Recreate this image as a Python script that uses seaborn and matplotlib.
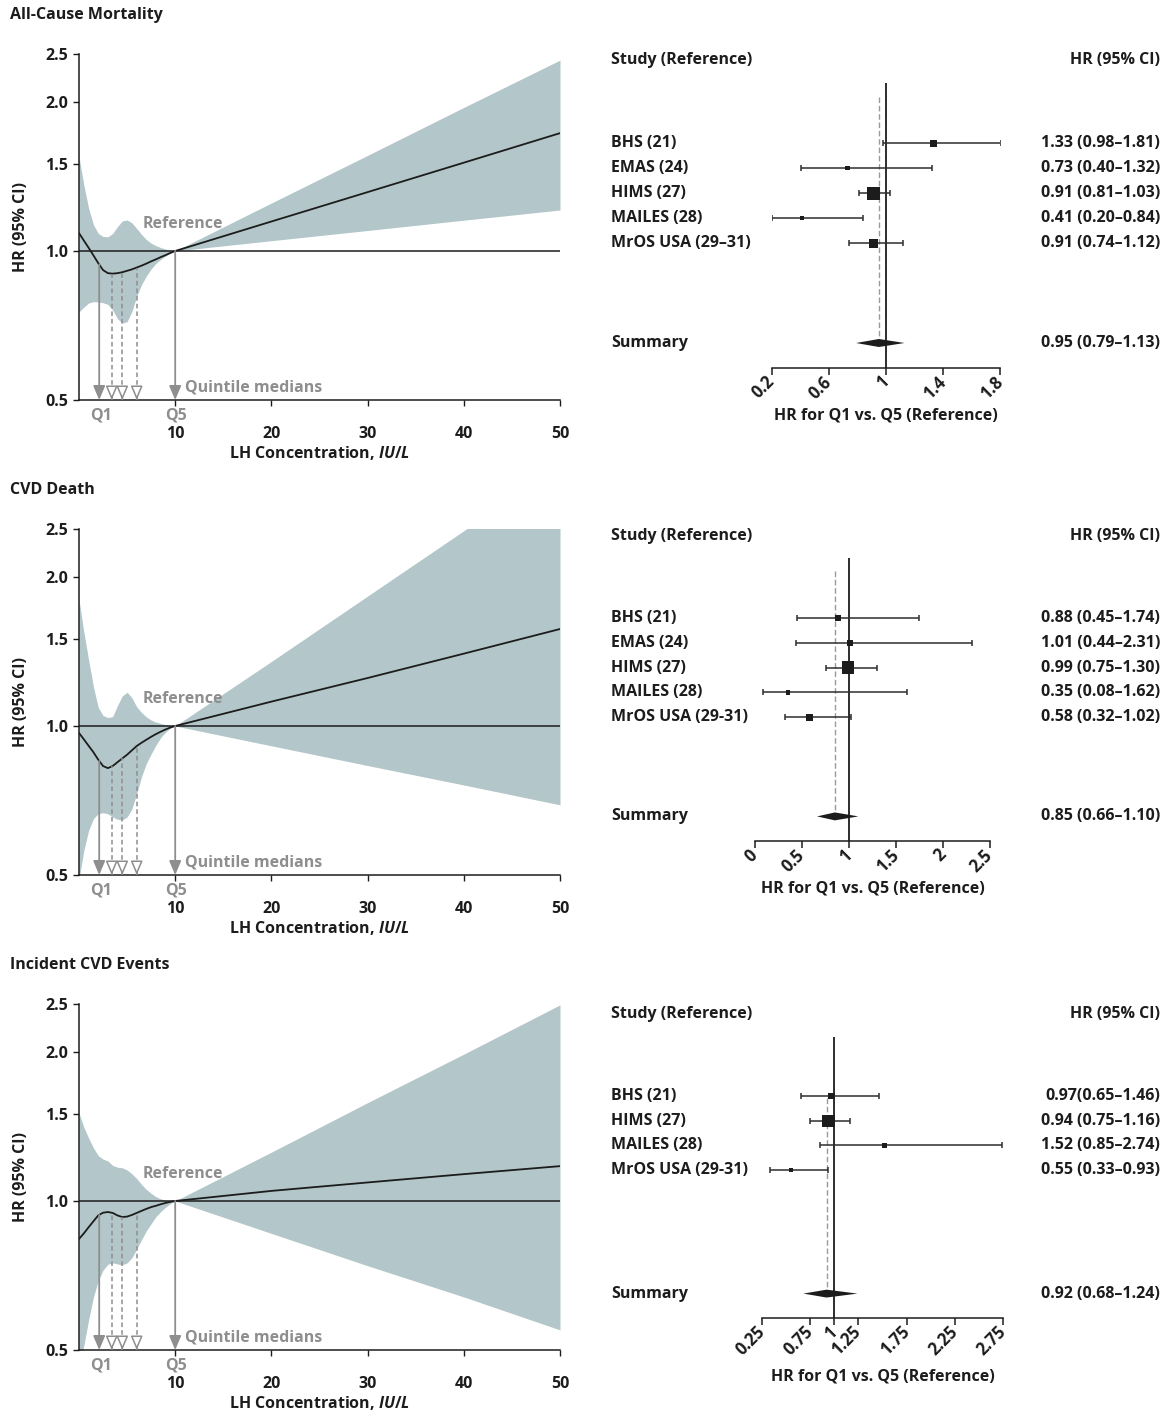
import numpy as np
import seaborn as sns
import matplotlib.pyplot as plt
from matplotlib.ticker import NullLocator
from matplotlib.transforms import blended_transform_factory

# LH concentration grid (IU/L) for the spline curves
LH = [0, 0.5, 1, 1.5, 2, 2.5, 3, 3.5, 4, 4.5, 5, 5.5, 6, 6.5, 7, 7.5,
      8, 8.5, 9, 9.5, 10, 20, 30, 40, 50]

# All-cause mortality spline
ACM_HR = [1.087, 1.05, 1.015, 0.98, 0.945, 0.915, 0.902, 0.900, 0.902, 0.906,
          0.912, 0.918, 0.926, 0.934, 0.943, 0.953, 0.962, 0.972, 0.981, 0.991,
          1.0, 1.147, 1.315, 1.508, 1.73]
ACM_LO = [0.753, 0.77, 0.785, 0.79, 0.789, 0.786, 0.78, 0.76, 0.73, 0.715,
          0.72, 0.755, 0.81, 0.855, 0.89, 0.92, 0.944, 0.962, 0.977, 0.99,
          1.0, 1.049, 1.10, 1.154, 1.21]
ACM_HI = [1.55, 1.36, 1.22, 1.13, 1.085, 1.07, 1.068, 1.085, 1.12, 1.15,
          1.155, 1.14, 1.11, 1.08, 1.055, 1.037, 1.025, 1.016, 1.009, 1.004,
          1.0, 1.25, 1.56, 1.95, 2.43]

# CVD death spline
CVD_HR = [0.968, 0.94, 0.912, 0.885, 0.855, 0.83, 0.822, 0.83, 0.845, 0.86,
          0.875, 0.893, 0.911, 0.925, 0.938, 0.951, 0.963, 0.974, 0.984, 0.993,
          1.0, 1.12, 1.25, 1.40, 1.57]
CVD_LO = [0.49, 0.56, 0.615, 0.65, 0.665, 0.668, 0.665, 0.655, 0.648, 0.646,
          0.655, 0.68, 0.73, 0.79, 0.84, 0.878, 0.915, 0.948, 0.972, 0.99,
          1.0, 0.912, 0.832, 0.76, 0.693]
CVD_HI = [1.80, 1.55, 1.36, 1.20, 1.09, 1.05, 1.04, 1.045, 1.10, 1.15,
          1.17, 1.14, 1.093, 1.065, 1.043, 1.028, 1.018, 1.012, 1.006, 1.002,
          1.0, 1.35, 1.83, 2.48, 3.35]

# Incident CVD events spline
INC_HR = [0.838, 0.86, 0.885, 0.91, 0.935, 0.947, 0.95, 0.946, 0.935, 0.928,
          0.93, 0.937, 0.946, 0.955, 0.964, 0.972, 0.978, 0.985, 0.991, 0.996,
          1.0, 1.048, 1.09, 1.133, 1.176]
INC_LO = [0.47, 0.51, 0.575, 0.64, 0.69, 0.725, 0.745, 0.75, 0.746, 0.743,
          0.75, 0.768, 0.80, 0.835, 0.87, 0.90, 0.93, 0.952, 0.972, 0.988,
          1.0, 0.86, 0.74, 0.64, 0.549]
INC_HI = [1.506, 1.41, 1.34, 1.28, 1.235, 1.215, 1.205, 1.18, 1.17, 1.167,
          1.155, 1.135, 1.11, 1.08, 1.055, 1.036, 1.02, 1.01, 1.004, 1.001,
          1.0, 1.255, 1.58, 1.98, 2.49]

QUINTILE_MEDIANS = [2.1, 3.4, 4.5, 6.0, 10.0]
TITLES = ['All-Cause Mortality', 'CVD Death', 'Incident CVD Events']

# forest plots: Q1 vs Q5
ACM_STUDIES = ['BHS (21)', 'EMAS (24)', 'HIMS (27)', 'MAILES (28)', 'MrOS USA (29–31)']
ACM_EST = [1.33, 0.73, 0.91, 0.41, 0.91]
ACM_CI_LO = [0.98, 0.40, 0.81, 0.20, 0.74]
ACM_CI_HI = [1.81, 1.32, 1.03, 0.84, 1.12]
ACM_WEIGHT = [7, 4.5, 13, 4.5, 9]
ACM_SUMMARY = [0.95, 0.79, 1.13]
ACM_TEXT = ['1.33 (0.98–1.81)', '0.73 (0.40–1.32)', '0.91 (0.81–1.03)',
            '0.41 (0.20–0.84)', '0.91 (0.74–1.12)', '0.95 (0.79–1.13)']
ACM_TICKS = [0.2, 0.6, 1, 1.4, 1.8]
ACM_TICKLABELS = ['0.2', '0.6', '1', '1.4', '1.8']

CVD_STUDIES = ['BHS (21)', 'EMAS (24)', 'HIMS (27)', 'MAILES (28)', 'MrOS USA (29-31)']
CVD_EST = [0.88, 1.01, 0.99, 0.35, 0.58]
CVD_CI_LO = [0.45, 0.44, 0.75, 0.08, 0.32]
CVD_CI_HI = [1.74, 2.31, 1.30, 1.62, 1.02]
CVD_WEIGHT = [5.8, 6.3, 12.7, 4.7, 6.7]
CVD_SUMMARY = [0.85, 0.66, 1.10]
CVD_TEXT = ['0.88 (0.45–1.74)', '1.01 (0.44–2.31)', '0.99 (0.75–1.30)',
            '0.35 (0.08–1.62)', '0.58 (0.32–1.02)', '0.85 (0.66–1.10)']
CVD_TICKS = [0, 0.5, 1, 1.5, 2, 2.5]
CVD_TICKLABELS = ['0', '0.5', '1', '1.5', '2', '2.5']

INC_STUDIES = ['BHS (21)', 'HIMS (27)', 'MAILES (28)', 'MrOS USA (29-31)']
INC_EST = [0.97, 0.94, 1.52, 0.55]
INC_CI_LO = [0.65, 0.75, 0.85, 0.33]
INC_CI_HI = [1.46, 1.16, 2.74, 0.93]
INC_WEIGHT = [6.6, 12.4, 4.4, 4.4]
INC_SUMMARY = [0.92, 0.68, 1.24]
INC_TEXT = ['0.97(0.65–1.46)', '0.94 (0.75–1.16)', '1.52 (0.85–2.74)',
            '0.55 (0.33–0.93)', '0.92 (0.68–1.24)']
INC_TICKS = [0.25, 0.75, 1, 1.25, 1.75, 2.25, 2.75]
INC_TICKLABELS = ['0.25', '0.75', '1', '1.25', '1.75', '2.25', '2.75']

BAND = '#b3c6c9'
GRAY = '#8e8e8e'
INK = '#1c1c1c'
W, H = 1171, 1416


def fx(px):
    return px / W


def fy(py):
    return 1 - py / H


def draw_spline(ax, hr, lo, hi):
    ax.fill_between(LH, lo, hi, color=BAND, lw=0, zorder=1)
    ax.axhline(1.0, color=INK, lw=1.1, zorder=2)
    sns.lineplot(x=LH, y=hr, ax=ax, color=INK, lw=1.3, zorder=3)
    ax.set_yscale('log')
    ax.set_xlim(0, 50)
    ax.set_ylim(0.5, 2.5)
    ax.set_yticks([0.5, 1.0, 1.5, 2.0, 2.5])
    ax.set_yticklabels(['0.5', '1.0', '1.5', '2.0', '2.5'])
    ax.yaxis.set_minor_locator(NullLocator())
    ax.set_xticks([10, 20, 30, 40, 50])
    ax.set_xticklabels(['10', '20', '30', '40', '50'])
    ax.tick_params(axis='x', length=4, width=1, pad=15, labelsize=11.5)
    ax.tick_params(axis='y', length=4, width=1, pad=4, labelsize=11.5)
    for s in ['top', 'right']:
        ax.spines[s].set_visible(False)
    for s in ['left', 'bottom']:
        ax.spines[s].set_linewidth(1.1)
        ax.spines[s].set_color(INK)

    head = '-|>,head_length=0.85,head_width=0.36'
    for i, q in enumerate(QUINTILE_MEDIANS):
        top = 1.0 if i == len(QUINTILE_MEDIANS) - 1 else np.interp(q, LH, hr)
        if i in (0, len(QUINTILE_MEDIANS) - 1):
            ax.annotate('', xy=(q, 0.5), xytext=(q, top),
                        arrowprops=dict(arrowstyle=head, color=GRAY, lw=1.3,
                                        shrinkA=0, shrinkB=0, mutation_scale=10),
                        annotation_clip=False, zorder=4)
        else:
            ax.vlines(q, 0.5, top, colors=GRAY, linestyles=(0, (3, 2)), lw=1.1, zorder=4)
            ax.annotate('', xy=(q, 0.5), xytext=(0, 8.5), textcoords='offset points',
                        arrowprops=dict(arrowstyle=head, fc='white', ec=GRAY, lw=1.1,
                                        shrinkA=0, shrinkB=0, mutation_scale=10),
                        annotation_clip=False, zorder=5)

    ax.text(6.6, 1.135, 'Reference', color=GRAY, fontsize=11.5, va='center', ha='left')
    ax.text(11.0, 0.53, 'Quintile medians', color=GRAY, fontsize=11.5, va='center', ha='left')
    tr = blended_transform_factory(ax.transData, ax.transAxes)
    ax.text(2.3, -0.045, 'Q1', color=GRAY, fontsize=11.5, ha='center', va='center', transform=tr)
    ax.text(10.1, -0.045, 'Q5', color=GRAY, fontsize=11.5, ha='center', va='center', transform=tr)

    ax.set_ylabel('HR (95% CI)', fontsize=11.5)
    ax.yaxis.set_label_coords(-(79 - 29) / 481, 0.5)
    ax.set_xlabel('LH Concentration, $IU/L$', fontsize=11.5)
    ax.xaxis.set_label_coords(0.5, -(453 - 400) / 346)
    ax.xaxis.label.set_va('center')


def draw_forest(fig, ax, studies, est, lo, hi, weight, summary, text,
                ticks, ticklabels, dash_top, label_gap, height_px):
    est = np.array(est)
    rows = np.arange(len(est))
    ax.errorbar(est, rows, xerr=[est - np.array(lo), np.array(hi) - est],
                fmt='none', ecolor='#2e2e2e', elinewidth=1.1, capsize=2,
                capthick=1.1, zorder=2)
    ax.scatter(est, rows, marker='s', s=(np.array(weight) * 0.72) ** 2,
               color=INK, linewidths=0, zorder=3)

    srow = 8
    s_est, s_lo, s_hi = summary
    ax.fill([s_lo, s_est, s_hi, s_est], [srow, srow - 0.16, srow, srow + 0.16],
            color=INK, lw=0, zorder=3)
    ax.axvline(1, color=INK, lw=1.3, zorder=1)
    ax.vlines(s_est, dash_top, srow, colors='#9a9a9a', linestyles=(0, (4, 2)),
              lw=1.0, zorder=1)

    ax.set_xlim(ticks[0], ticks[-1])
    ax.set_ylim(9, -2.4)
    ax.set_yticks([])
    ax.set_xticks(ticks)
    ax.set_xticklabels(ticklabels, rotation=45, ha='right', va='center',
                       rotation_mode='anchor')
    ax.tick_params(axis='x', length=5, width=1.1, pad=3, labelsize=12)
    for s in ['top', 'right', 'left']:
        ax.spines[s].set_visible(False)
    ax.spines['bottom'].set_linewidth(1.1)
    ax.spines['bottom'].set_color(INK)
    ax.patch.set_alpha(0)

    ax.set_xlabel('HR for Q1 vs. Q5 (Reference)', fontsize=11.5)
    ax.xaxis.set_label_coords(0.5, -label_gap / height_px)
    ax.xaxis.label.set_va('center')

    tr = blended_transform_factory(fig.transFigure, ax.transData)
    ax.text(fx(611), -3.3, 'Study (Reference)', transform=tr, ha='left', va='center',
            fontsize=11.5, clip_on=False)
    ax.text(fx(1160), -3.3, 'HR (95% CI)', transform=tr, ha='right', va='center',
            fontsize=11.5, clip_on=False)
    for r, name in enumerate(studies):
        ax.text(fx(611), r, name, transform=tr, ha='left', va='center',
                fontsize=11.5, clip_on=False)
    ax.text(fx(611), srow, 'Summary', transform=tr, ha='left', va='center',
            fontsize=11.5, clip_on=False)
    for r, t in enumerate(text[:-1]):
        ax.text(fx(1160), r, t, transform=tr, ha='right', va='center',
                fontsize=11.5, clip_on=False)
    ax.text(fx(1160), srow, text[-1], transform=tr, ha='right', va='center',
            fontsize=11.5, clip_on=False)


def main():
    sns.set_theme(style='ticks')
    plt.rcParams['font.family'] = ['Open Sans', 'DejaVu Sans']
    plt.rcParams['font.weight'] = 'bold'
    plt.rcParams['axes.labelweight'] = 'bold'
    plt.rcParams['text.color'] = INK
    plt.rcParams['axes.labelcolor'] = INK
    plt.rcParams['xtick.color'] = INK
    plt.rcParams['ytick.color'] = INK
    plt.rcParams['mathtext.fontset'] = 'custom'
    plt.rcParams['mathtext.rm'] = 'Open Sans:bold'
    plt.rcParams['mathtext.it'] = 'Open Sans:italic:bold'

    fig = plt.figure(figsize=(W / 100, H / 100), dpi=100)

    splines = [(ACM_HR, ACM_LO, ACM_HI), (CVD_HR, CVD_LO, CVD_HI),
               (INC_HR, INC_LO, INC_HI)]
    forests = [
        (ACM_STUDIES, ACM_EST, ACM_CI_LO, ACM_CI_HI, ACM_WEIGHT, ACM_SUMMARY,
         ACM_TEXT, ACM_TICKS, ACM_TICKLABELS),
        (CVD_STUDIES, CVD_EST, CVD_CI_LO, CVD_CI_HI, CVD_WEIGHT, CVD_SUMMARY,
         CVD_TEXT, CVD_TICKS, CVD_TICKLABELS),
        (INC_STUDIES, INC_EST, INC_CI_LO, INC_CI_HI, INC_WEIGHT, INC_SUMMARY,
         INC_TEXT, INC_TICKS, INC_TICKLABELS),
    ]
    # layout in pixels
    forest_x = [(772, 1000), (755, 990), (762, 1003)]
    row0 = [143, 618, 1096]
    row_h = [25, 24.8, 24.7]
    dash_top = [-1.85, -1.9, 0.1]
    label_gap = [47, 47, 58]

    for k in range(3):
        bottom_px = 400 + 475 * k
        ax = fig.add_axes([fx(79), fy(bottom_px), 481 / W, 346 / H])
        draw_spline(ax, *splines[k])
        fig.text(fx(10), fy(15 + 475 * k), TITLES[k], fontsize=11.5,
                 ha='left', va='center')

        top_px = row0[k] - 2.4 * row_h[k]
        bot_px = row0[k] + 9 * row_h[k]
        x0, x1 = forest_x[k]
        fax = fig.add_axes([fx(x0), fy(bot_px), (x1 - x0) / W, (bot_px - top_px) / H])
        draw_forest(fig, fax, *forests[k], dash_top[k], label_gap[k],
                    bot_px - top_px)

    fig.savefig('out.png', dpi=100)


if __name__ == '__main__':
    main()
